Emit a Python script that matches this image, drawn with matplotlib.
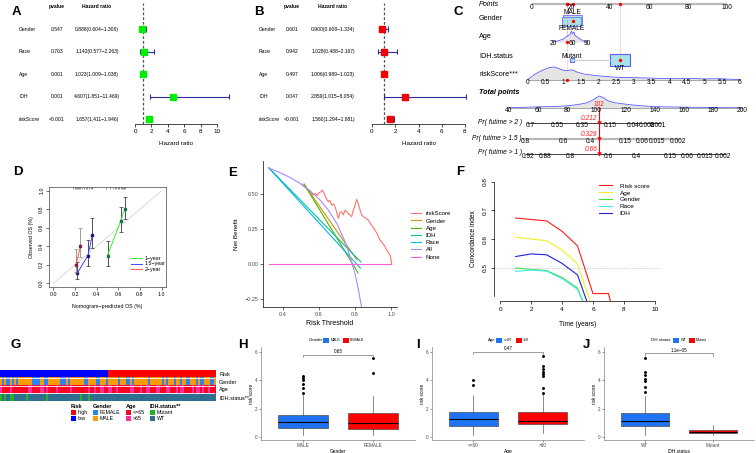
import matplotlib
matplotlib.use("Agg")
import matplotlib.pyplot as plt
import matplotlib.transforms as mtransforms
from matplotlib.lines import Line2D
from matplotlib.patches import Rectangle
from matplotlib.colors import to_rgb
import numpy as np

plt.rcParams["font.family"] = ["Liberation Sans", "DejaVu Sans"]

# ---------------- data ----------------
# A / B: univariate and multivariate Cox regression
forest_vars = ["Gender", "Race", "Age", "IDH", "riskScore"]
uni_p = ["0.547", "0.703", "0.001", "0.001", "<0.001"]
uni_hr = [0.888, 1.142, 1.023, 4.607, 1.657]
uni_lo = [0.604, 0.577, 1.009, 1.851, 1.411]
uni_hi = [1.306, 2.263, 1.038, 11.469, 1.946]
multi_p = ["0.601", "0.942", "0.497", "0.047", "<0.001"]
multi_hr = [0.900, 1.028, 1.006, 2.859, 1.560]
multi_lo = [0.608, 0.488, 0.989, 1.015, 1.294]
multi_hi = [1.334, 2.167, 1.023, 8.054, 1.881]

# C: nomogram
points_ticks = [0, 20, 40, 60, 80, 100]
gender_levels = ["MALE", "FEMALE"]
gender_points = [20.9, 20.2]
gender_box_w = [9.5, 10.0]
age_grid = [20, 30, 40, 45, 50, 55, 58, 60, 63, 65, 70, 75, 80, 85, 90]
age_density = [0, 0.1, 0.25, 0.4, 0.55, 0.7, 1.0, 0.75, 0.9, 0.6, 0.45, 0.3, 0.15, 0.05, 0]
age_ticks = [20, 60, 90]
idh_levels = ["Mutant", "WT"]
idh_points = [20.5, 45.0]
idh_box_w = [2.0, 10.0]
rs_grid = [0, 0.1, 0.2, 0.3, 0.45, 0.6, 0.75, 0.85, 1.0, 1.1, 1.25, 1.4, 1.6, 1.8, 2.0,
           2.3, 2.6, 3.0, 3.4, 3.8, 4.2, 4.6, 5.0, 5.4, 5.8, 6.0]
rs_density = [0.05, 0.25, 0.45, 0.6, 0.8, 0.95, 1.0, 0.9, 0.75, 0.72, 0.78, 0.6, 0.45, 0.38,
              0.32, 0.25, 0.2, 0.18, 0.15, 0.12, 0.1, 0.12, 0.08, 0.1, 0.05, 0.03]
rs_ticks = [0, 0.5, 1, 1.5, 2, 2.5, 3, 3.5, 4, 4.5, 5, 5.5, 6]
tp_grid = [40, 50, 60, 70, 80, 88, 94, 98, 102, 105, 108, 112, 118, 125, 135, 145, 155,
           165, 175, 185, 195, 200]
tp_density = [0.02, 0.05, 0.1, 0.12, 0.18, 0.3, 0.45, 0.7, 1.0, 0.85, 0.6, 0.45, 0.35,
              0.25, 0.15, 0.1, 0.08, 0.06, 0.05, 0.03, 0.02, 0.01]
tp_ticks = [40, 60, 80, 100, 120, 140, 160, 180, 200]
patient_points = [20.9, 18.0, 45.0, 17.8]   # Gender, Age, IDH, riskScore
patient_age = 49
patient_rs = 1.1
patient_total = 102
surv_labels = ["Pr( futime > 2 )", "Pr( futime > 1.5 )", "Pr( futime > 1 )"]
surv_tick_labels = [
    ["0.7", "0.55", "0.35", "0.15", "0.04", "0.008", "0.001"],
    ["0.8", "0.6", "0.4", "0.15", "0.06", "0.015", "0.002"],
    ["0.92", "0.88", "0.8", "0.6", "0.4", "0.15", "0.06", "0.015", "0.002"],
]
surv_tick_total = [
    [54.4, 73.0, 90.1, 109.4, 125.2, 134.8, 142.3],
    [51.0, 77.1, 95.6, 119.7, 131.3, 141.6, 156.0],
    [53.0, 64.7, 81.9, 108.0, 127.2, 150.6, 162.2, 174.6, 187.0],
]
surv_pred = ["0.212", "0.329", "0.66"]

# D: calibration
cal_1y_x = [0.50, 0.62, 0.66]
cal_1y_y = [0.30, 0.67, 0.80]
cal_1y_lo = [0.19, 0.55, 0.69]
cal_1y_hi = [0.46, 0.82, 0.93]
cal_15y_x = [0.22, 0.32, 0.36]
cal_15y_y = [0.11, 0.30, 0.52]
cal_15y_lo = [0.05, 0.19, 0.38]
cal_15y_hi = [0.23, 0.47, 0.70]
cal_2y_x = [0.21, 0.25]
cal_2y_y = [0.20, 0.40]
cal_2y_lo = [0.12, 0.28]
cal_2y_hi = [0.37, 0.60]
cal_rug = [0.18, 0.2, 0.21, 0.22, 0.23, 0.24, 0.25, 0.26, 0.28, 0.3, 0.31, 0.33, 0.35,
           0.36, 0.49, 0.52, 0.55, 0.57, 0.58, 0.6, 0.61, 0.62, 0.63, 0.64, 0.65, 0.66]

# E: decision curves
dca_names = ["riskScore", "Gender", "Age", "IDH", "Race", "All", "None"]
dca_colors = ["#F8766D", "#C49A00", "#53B400", "#00C094", "#00B6EB", "#A58AFF", "#FB61D7"]
rs_thr = [0.50, 0.55, 0.568, 0.58, 0.59, 0.60, 0.61, 0.619, 0.63, 0.64, 0.652, 0.66, 0.67,
          0.68, 0.689, 0.70, 0.707, 0.715, 0.726, 0.735, 0.745, 0.754, 0.763, 0.772, 0.781,
          0.791, 0.80, 0.809, 0.818, 0.827, 0.837, 0.855, 0.874, 0.89, 0.911, 0.925, 0.939,
          0.955, 0.967, 0.98, 0.994, 1.0, 1.004]
rs_nb = [0.572, 0.52, 0.493, 0.505, 0.49, 0.51, 0.515, 0.529, 0.50, 0.47, 0.445, 0.455,
         0.421, 0.43, 0.41, 0.36, 0.326, 0.365, 0.374, 0.35, 0.385, 0.374, 0.36, 0.35, 0.338,
         0.386, 0.42, 0.462, 0.433, 0.39, 0.35, 0.33, 0.314, 0.28, 0.243, 0.21, 0.171, 0.145,
         0.124, 0.09, 0.064, 0.03, 0.0]
gender_thr = [0.517, 0.81]
gender_nb = [0.571, 0.03]
age_thr = [0.517, 0.817]
age_nb = [0.571, -0.064]
idh_thr = [0.322, 0.833]
idh_nb = [0.686, 0.014]
race_thr = [0.322, 0.83]
race_nb = [0.686, -0.03]
all_thr = [0.32, 0.35, 0.40, 0.45, 0.50, 0.55, 0.60, 0.65, 0.70, 0.75, 0.78, 0.80, 0.82, 0.84]
all_nb = [0.686, 0.671, 0.643, 0.611, 0.572, 0.524, 0.465, 0.389, 0.287, 0.144, 0.02,
          -0.07, -0.19, -0.34]
none_thr = [0.32, 1.0]
none_nb = [0.0, 0.0]

# F: time-dependent C-index
cidx_names = ["Risk score", "Age", "Gender", "Race", "IDH"]
cidx_colors = ["#FF1A1A", "#F0F020", "#40E040", "#40E8E8", "#2020E0"]
cidx_time = [[1, 2, 3, 4, 5, 6, 7, 8], [1, 2, 3, 4, 5, 6], [1, 2, 3, 4, 5, 6],
             [1, 2, 3, 4, 5, 6], [1, 2, 3, 4, 5, 6]]
cidx_vals = [[0.673, 0.668, 0.663, 0.627, 0.576, 0.41, 0.41, 0.2],
             [0.606, 0.600, 0.594, 0.562, 0.513, 0.352],
             [0.499, 0.494, 0.490, 0.466, 0.429, 0.30],
             [0.487, 0.492, 0.488, 0.462, 0.425, 0.30],
             [0.539, 0.548, 0.545, 0.515, 0.475, 0.323]]

# G: clinical annotation heatmap
n_samples = 108
n_low = 54
gender_female = [1, 3, 4, 6, 8, 16, 17, 18, 19, 22, 23, 30, 31, 32, 34, 42, 43, 48, 49,
                 53, 59, 63, 64, 66, 74, 81, 83, 87, 90, 93, 94, 98, 100, 101, 105, 106]
age_old = [0, 5, 14, 15, 20, 21, 23, 28, 35, 44, 47, 50, 51, 54, 55, 58, 65, 66, 70, 73,
           74, 78, 79, 83, 84, 88, 90, 91, 96, 98, 99, 101, 104]
idh_mutant = [0, 2, 5, 6, 13, 23, 40, 44]

# H / I / J: risk score by clinical group (whislo, q1, med, q3, whishi, outliers)
h_stats = [(0.16, 0.63, 1.05, 1.55, 2.95, [3.14, 3.46, 3.76, 4.02, 4.16, 4.3]),
           (0.16, 0.58, 0.98, 1.67, 2.90, [4.53, 5.55])]
i_stats = [(0.16, 0.75, 1.28, 1.79, 2.95, [3.7, 4.0]),
           (0.30, 0.90, 1.14, 1.74, 3.07, [3.14, 3.46, 4.3, 4.46, 4.62, 4.81, 5.04, 5.73])]
j_stats = [(0.14, 0.76, 1.12, 1.68, 2.90, [3.2, 3.56, 3.93, 4.11, 4.34, 4.57, 5.54]),
           (0.14, 0.25, 0.34, 0.53, 0.83, [])]

# ---------------- figure ----------------
W, H = 756, 453
fig = plt.figure(figsize=(W / 100, H / 100), dpi=100)


def box(x0, y0, x1, y1):
    return fig.add_axes([x0 / W, 1 - y1 / H, (x1 - x0) / W, (y1 - y0) / H])


def ftext(x, y, s, **kw):
    kw.setdefault("va", "center")
    return fig.text(x / W, 1 - y / H, s, **kw)


def letter(x, y, s):
    ftext(x, y, s, ha="center", fontsize=9.5, fontweight="bold")


# ---- A / B ----
def forest(x0, x1, xmax, xticks, cols, p, hr, lo, hi, sq_color, sq_size):
    ax = box(x0, 3, x1, 124)
    ax.set_xlim(0, xmax)
    ax.set_ylim(4.22, -1.16)
    rows = np.arange(len(forest_vars))
    ax.axvline(1, color="#555555", lw=0.9, ls=(0, (2.2, 1.6)))
    ax.hlines(rows, lo, hi, color="#2b2b9c", lw=0.8, clip_on=False)
    ax.vlines(lo, rows - 0.12, rows + 0.12, color="#2b2b9c", lw=0.8, clip_on=False)
    ax.vlines(hi, rows - 0.12, rows + 0.12, color="#2b2b9c", lw=0.8, clip_on=False)
    ax.plot(hr, rows, "s", color=sq_color, ms=sq_size, clip_on=False)
    for s in ["top", "right", "left"]:
        ax.spines[s].set_visible(False)
    ax.spines["bottom"].set_bounds(0, xmax)
    ax.spines["bottom"].set_linewidth(0.5)
    ax.set_yticks([])
    ax.set_xticks(xticks)
    ax.tick_params(axis="x", labelsize=4.5, length=2, width=0.5, pad=1.5)
    ax.set_xlabel("Hazard ratio", fontsize=4.5, labelpad=5)
    tr = mtransforms.blended_transform_factory(fig.transFigure, ax.transData)
    name_x, p_x, hr_x = cols
    ax.text(p_x / W, -1, "pvalue", transform=tr, ha="center", va="center",
            fontsize=3.6, fontweight="bold")
    ax.text(hr_x / W, -1, "Hazard ratio", transform=tr, ha="center", va="center",
            fontsize=3.6, fontweight="bold")
    for i in rows:
        ax.text(name_x / W, i, forest_vars[i], transform=tr, ha="left", va="center", fontsize=3.6)
        ax.text(p_x / W, i, p[i], transform=tr, ha="center", va="center", fontsize=3.6)
        ax.text(hr_x / W, i, f"{hr[i]:.3f}({lo[i]:.3f}\u2212{hi[i]:.3f})", transform=tr,
                ha="center", va="center", fontsize=3.6)


forest(135, 217, 10, [0, 2, 4, 6, 8, 10], (19, 57, 97), uni_p, uni_hr, uni_lo, uni_hi,
       "#00EE00", 4.2)
forest(372, 465, 8, [0, 2, 4, 6, 8], (259, 292, 333), multi_p, multi_hr, multi_lo, multi_hi,
       "#EE0000", 4.2)
letter(16, 12, "A")
letter(259, 12, "B")

# ---- C : nomogram ----
C_X0, C_X1, C_Y1 = 470, 756, 160


def c_axes(v_a, px_a, v_b, px_b):
    ax = box(C_X0, 0, C_X1, C_Y1)
    s = (px_b - px_a) / (v_b - v_a)
    ax.set_xlim(v_a + (C_X0 - px_a) / s, v_a + (C_X1 - px_a) / s)
    ax.set_ylim(C_Y1, 0)
    ax.axis("off")
    return ax


nom_fs = 4.8
pa = c_axes(0, 532, 100, 727)
pa.plot([0, 100], [4, 4], color="#b8b8b8", lw=1.6, solid_capstyle="butt")
for v in points_ticks:
    pa.text(v, 7.5, str(v), ha="center", va="center", fontsize=nom_fs)
for pt, w, dy in zip(gender_points, gender_box_w, [0, 2]):
    pa.add_patch(Rectangle((pt - w / 2, 15 + dy), w, 9, facecolor="#a8e2e6",
                           edgecolor="#5a5aff", lw=0.6, alpha=0.85))
pa.text(gender_points[0], 12.5, gender_levels[0], ha="center", va="center", fontsize=nom_fs)
pa.text(gender_points[1], 28.5, gender_levels[1], ha="center", va="center", fontsize=nom_fs)
pa.plot([idh_points[0] + idh_box_w[0] / 2, idh_points[1] - idh_box_w[1] / 2], [60, 60],
        color="#cccccc", lw=0.8)
pa.add_patch(Rectangle((idh_points[0] - idh_box_w[0] / 2, 58), idh_box_w[0], 4,
                       facecolor="#a8e2e6", edgecolor="#5a5aff", lw=0.6))
pa.add_patch(Rectangle((idh_points[1] - idh_box_w[1] / 2, 53.5), idh_box_w[1], 12.5,
                       facecolor="#a8e2e6", edgecolor="#5a5aff", lw=0.8))
pa.text(idh_points[0], 56, idh_levels[0], ha="center", va="center", fontsize=nom_fs)
pa.text(idh_points[1], 69, idh_levels[1], ha="center", va="center", fontsize=nom_fs)
for val, row_y in zip(patient_points, [21, 41, 60, 80]):
    pa.plot([val, val], [4, row_y], color="#ff8a8a", lw=0.5, ls=(0, (1, 1)))
    pa.plot(val, 4, "o", color="#ff0000", ms=2.4, mec="none")
pa.plot(patient_points[0], 21, "o", color="#ff0000", ms=2.4, mec="none")
pa.plot(idh_points[1], 60, "o", color="#ff0000", ms=2.4, mec="none")

aa = c_axes(20, 553, 90, 587)
aa.fill_between(age_grid, 42 - 11 * np.array(age_density), 42, color="#e4e4e4", lw=0)
aa.plot(age_grid, 42 - 11 * np.array(age_density), color="#5a5aff", lw=0.6)
for v in age_ticks:
    aa.text(v, 43.5, str(v), ha="center", va="center", fontsize=nom_fs)
aa.plot(patient_age, 41.5, "o", color="#ff0000", ms=2.4, mec="none")

ra = c_axes(0, 528, 6, 740)
ra.fill_between(rs_grid, 80 - 13 * np.array(rs_density), 80, color="#e4e4e4", lw=0)
ra.plot(rs_grid, 80 - 13 * np.array(rs_density), color="#5a5aff", lw=0.6)
ra.plot([0, 6], [80, 80], color="#9a9a9a", lw=0.6)
for v in rs_ticks:
    ra.text(v, 82.5, f"{v:g}", ha="center", va="center", fontsize=nom_fs)
ra.plot(patient_rs, 79.5, "o", color="#ff0000", ms=2.4, mec="none")

ta = c_axes(40, 509, 200, 742)
ta.fill_between(tp_grid, 108 - 12 * np.array(tp_density), 108, color="#e4e4e4", lw=0)
ta.plot(tp_grid, 108 - 12 * np.array(tp_density), color="#5a5aff", lw=0.6)
ta.plot([40, 200], [108, 108], color="#9a9a9a", lw=0.6)
for v in tp_ticks:
    ta.text(v, 110.5, str(v), ha="center", va="center", fontsize=nom_fs)
ta.text(patient_total, 104, str(patient_total), ha="center", va="center", fontsize=nom_fs,
        color="#ff2020")
surv_y = [123, 139, 154]
surv_line = [("#222222", 0.6), ("#b8b8b8", 1.6), ("#222222", 0.6)]
for k in range(3):
    y = surv_y[k]
    ta.plot([surv_tick_total[k][0] - 2, surv_tick_total[k][-1] + 2], [y, y],
            color=surv_line[k][0], lw=surv_line[k][1], solid_capstyle="butt")
    for lab, v in zip(surv_tick_labels[k], surv_tick_total[k]):
        ta.text(v, y + 2.5, lab, ha="center", va="center", fontsize=nom_fs)
    ta.text(patient_total - 1.5, y - 4.5, surv_pred[k], ha="right", va="center",
            fontsize=nom_fs, color="#ff2020", style="italic")
    ftext(522, y - 1, surv_labels[k], ha="right", fontsize=nom_fs, style="italic")
ta.plot([patient_total, patient_total], [108, surv_y[-1]], color="#ff0000", lw=0.8)
ta.plot([patient_total] * 3, surv_y, "v", color="#ff0000", ms=3.2, mec="none")

ftext(479, 4, "Points", fontsize=5.2, style="italic")
ftext(479, 18, "Gender", fontsize=5.2)
ftext(479, 37, "Age", fontsize=5.2)
ftext(479, 56, "IDH.status", fontsize=5.2)
ftext(479, 75, "riskScore***", fontsize=5.2)
ftext(479, 92, "Total points", fontsize=5.2, style="italic", fontweight="bold")
letter(458, 12, "C")

# ---- D : calibration ----
ax = box(49, 187, 166, 287)
ax.set_xlim(-0.04, 1.04)
ax.set_ylim(-0.04, 1.04)
ax.plot([0, 1], [0, 1], color="#d4d4d4", lw=0.6)
ax.vlines(cal_rug, 1.015, 1.04, color="#444444", lw=0.4)
cal_series = [
    (cal_1y_x, cal_1y_y, cal_1y_lo, cal_1y_hi, "#33ee33", "#1f6f4f", "#333333", "1\u2212year"),
    (cal_15y_x, cal_15y_y, cal_15y_lo, cal_15y_hi, "#4444ff", "#1a1a8c", "#333333", "1.5\u2212year"),
    (cal_2y_x, cal_2y_y, cal_2y_lo, cal_2y_hi, "#ff5555", "#8c1a4a", "#8a8a8a", "2\u2212year"),
]
handles = []
for x, y, lo, hi, lc, mc, ec, lab in cal_series:
    x, y, lo, hi = map(np.array, (x, y, lo, hi))
    ax.errorbar(x, y, yerr=[y - lo, hi - y], fmt="none", ecolor=ec, elinewidth=0.6,
                capsize=1.2, capthick=0.5)
    ax.plot(x, y, color=lc, lw=0.7)
    ax.plot(x, y, "s", color=mc, ms=1.6)
    handles.append(Line2D([], [], color=lc, lw=0.7, label=lab))
ax.legend(handles=handles, loc="upper left", bbox_to_anchor=(128 / W, 1 - 253 / H),
          bbox_transform=fig.transFigure, frameon=False, fontsize=3.8, handlelength=2.2,
          labelspacing=0.15, borderpad=0, handletextpad=0.5)
for s in ax.spines.values():
    s.set_linewidth(0.5)
    s.set_color("#444444")
ticks = [0, 0.2, 0.4, 0.6, 0.8, 1.0]
ax.set_xticks(ticks)
ax.set_yticks(ticks)
ax.set_xticklabels([f"{t:.1f}" for t in ticks])
ax.set_yticklabels([f"{t:.1f}" for t in ticks], rotation=90, va="center")
ax.tick_params(labelsize=3.8, length=2, width=0.4, pad=1.5)
ax.set_xlabel("Nomogram\u2212predicted OS (%)", fontsize=3.8, labelpad=5)
ax.set_ylabel("Observed OS (%)", fontsize=3.8, labelpad=4)
letter(18, 172, "D")

# ---- E : decision curves ----
ax = box(263, 161, 397, 307)
ax.set_xlim(0.289, 1.033)
ax.set_ylim(-0.307, 0.736)
dca_x = [rs_thr, gender_thr, age_thr, idh_thr, race_thr, all_thr, none_thr]
dca_y = [rs_nb, gender_nb, age_nb, idh_nb, race_nb, all_nb, none_nb]
for x, y, c, n in zip(dca_x, dca_y, dca_colors, dca_names):
    ax.plot(x, y, color=c, lw=0.8, label=n)
for s in ["top", "right"]:
    ax.spines[s].set_visible(False)
for s in ["left", "bottom"]:
    ax.spines[s].set_linewidth(0.5)
ax.set_xticks([0.4, 0.6, 0.8, 1.0])
ax.set_xticklabels(["0.4", "0.6", "0.8", "1.0"])
ax.set_yticks([-0.25, 0, 0.25, 0.5])
ax.set_yticklabels(["\u22120.25", "0.00", "0.25", "0.50"])
ax.tick_params(labelsize=4, length=2, width=0.4, pad=1.5, labelcolor="#4d4d4d")
ax.set_xlabel("Risk Threshold", fontsize=5, labelpad=2)
ax.set_ylabel("Net Benefit", fontsize=4.6, labelpad=4)
ax.legend(loc="upper left", bbox_to_anchor=(408 / W, 1 - 208 / H),
          bbox_transform=fig.transFigure, frameon=False, fontsize=4.4, handlelength=1.6,
          labelspacing=0.32, borderpad=0, handletextpad=0.8)
letter(233, 173, "E")

# ---- F : C-index over time ----
ax = box(494, 177, 661, 301)
ax.set_xlim(-0.4, 10.4)
ax.set_ylim(0.384, 0.816)
ax.axhline(0.5, color="#aaaaaa", lw=0.6, ls=(0, (1, 2)))
for t, v, c, n in zip(cidx_time, cidx_vals, cidx_colors, cidx_names):
    ax.plot(t, v, color=c, lw=0.8, label=n)
for s in ["top", "right"]:
    ax.spines[s].set_visible(False)
ax.spines["left"].set_bounds(0.4, 0.8)
ax.spines["bottom"].set_bounds(0, 10)
for s in ["left", "bottom"]:
    ax.spines[s].set_linewidth(0.5)
ax.set_xticks([0, 2, 4, 6, 8, 10])
ax.set_yticks([0.5, 0.6, 0.7, 0.8])
ax.set_yticklabels(["0.5", "0.6", "0.7", "0.8"], rotation=90, va="center")
ax.tick_params(labelsize=4.6, length=2.5, width=0.5, pad=2)
ax.set_xlabel("Time (years)", fontsize=4.8, labelpad=6)
ax.set_ylabel("Concordance index", fontsize=4.8, labelpad=4)
ax.legend(loc="upper left", bbox_to_anchor=(596 / W, 1 - 180 / H),
          bbox_transform=fig.transFigure, frameon=False, fontsize=4.6, handlelength=2.0,
          labelspacing=0.22, borderpad=0, handletextpad=1.2)
letter(460, 172, "F")

# ---- G : annotation heatmap ----
risk_cols = {"high": "#FF0000", "low": "#0000FF"}
gender_cols = {"FEMALE": "#2B83F6", "MALE": "#FF9900"}
age_cols = {"<=65": "#FF0022", ">65": "#FF2FA0"}
idh_cols = {"Mutant": "#22B422", "WT": "#2F6E8E"}
risk_lab = ["low"] * n_low + ["high"] * (n_samples - n_low)
gender_lab = ["FEMALE" if i in gender_female else "MALE" for i in range(n_samples)]
age_lab = [">65" if i in age_old else "<=65" for i in range(n_samples)]
idh_lab = ["Mutant" if i in idh_mutant else "WT" for i in range(n_samples)]
rgb = np.array([[to_rgb(risk_cols[v]) for v in risk_lab],
                [to_rgb(gender_cols[v]) for v in gender_lab],
                [to_rgb(age_cols[v]) for v in age_lab],
                [to_rgb(idh_cols[v]) for v in idh_lab]])
ax = box(0, 370, 215, 401)
ax.imshow(rgb, aspect="auto", interpolation="nearest", extent=(0, n_samples, 4, 0))
for yy in [1, 2, 3]:
    ax.axhline(yy, color="white", lw=0.6)
ax.axis("off")
for lab, y in zip(["Risk", "Gender", "Age", "IDH.status**"], [374, 382, 390, 398]):
    ftext(219, y, lab, fontsize=4.0)
lg = box(0, 400, 215, 430)
lg.set_xlim(0, 215)
lg.set_ylim(430, 400)
lg.axis("off")
for title, x, cols in [("Risk", 71, risk_cols), ("Gender", 93, gender_cols),
                       ("Age", 126, age_cols), ("IDH.status**", 150, idh_cols)]:
    lg.text(x, 407, title, fontsize=4, fontweight="bold", va="center")
    for k, (name, c) in enumerate(cols.items()):
        lg.add_patch(Rectangle((x, 410.5 + 6 * k), 5, 5, facecolor=c, lw=0))
        lg.text(x + 7, 413 + 6 * k, name, fontsize=3.8, va="center")
letter(16, 345, "G")


# ---- H / I / J : boxplots ----
def box_panel(x0, x1, stats, labels, xlabel, p_text, bracket_y, leg_title, leg_x):
    ax = box(x0, 347, x1, 440)
    ax.set_xlim(0.4, 2.6)
    ax.set_ylim(-0.21, 6.35)
    bstats = [dict(label=l, whislo=s[0], q1=s[1], med=s[2], q3=s[3], whishi=s[4],
                   fliers=s[5]) for l, s in zip(labels, stats)]
    bp = ax.bxp(bstats, positions=[1, 2], widths=0.71, patch_artist=True, showcaps=False,
                boxprops=dict(lw=0.4, edgecolor="#333333"),
                medianprops=dict(color="black", lw=0.8),
                whiskerprops=dict(color="#333333", lw=0.4),
                flierprops=dict(marker="o", ms=1.1, mfc="black", mec="black"))
    for patch, c in zip(bp["boxes"], ["#1F73F2", "#FF0000"]):
        patch.set_facecolor(c)
    ax.plot([1, 1, 2, 2], [bracket_y - 0.15, bracket_y, bracket_y, bracket_y - 0.15],
            color="#555555", lw=0.4)
    ax.text(1.5, bracket_y + 0.22, p_text, ha="center", va="center", fontsize=3.3)
    for s in ["top", "right"]:
        ax.spines[s].set_visible(False)
    for s in ["left", "bottom"]:
        ax.spines[s].set_linewidth(0.4)
        ax.spines[s].set_color("#666666")
    ax.set_yticks([0, 2, 4, 6])
    ax.tick_params(labelsize=3.3, length=1.5, width=0.4, pad=1, colors="#444444")
    ax.set_xlabel(xlabel, fontsize=3.5, labelpad=0.5)
    ax.set_ylabel("risk score", fontsize=3.3, labelpad=1)
    lx = leg_x
    ftext(lx, 340, leg_title, fontsize=3.2)
    lx += len(leg_title) * 2.0 + 2
    for name, c in zip(labels, ["#1F73F2", "#FF0000"]):
        fig.patches.append(Rectangle((lx / W, 1 - 342.5 / H), 6 / W, 5 / H, facecolor=c,
                                     lw=0, transform=fig.transFigure, figure=fig))
        ftext(lx + 7.5, 340, name, fontsize=2.6)
        lx += 7.5 + len(name) * 2.0 + 4


box_panel(261, 415, h_stats, ["MALE", "FEMALE"], "Gender", "0.65", 5.8, "Gender", 309)
box_panel(432, 584, i_stats, ["<=60", ">60"], "Age", "0.47", 6.0, "Age", 488)
box_panel(604, 754, j_stats, ["WT", "Mutant"], "IDH.status", "1.1e\u221205", 5.9,
          "IDH.status", 651)
letter(243, 345, "H")
letter(418, 345, "I")
letter(586, 345, "J")

fig.savefig("out.png", dpi=100)
